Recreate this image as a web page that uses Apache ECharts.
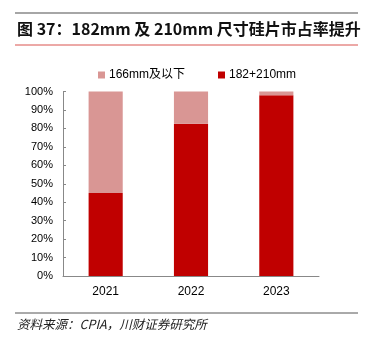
<!DOCTYPE html>
<html><head><meta charset="utf-8">
<script src="https://cdn.jsdelivr.net/npm/echarts@6/dist/echarts.min.js"></script>
<style>html,body{margin:0;padding:0;background:#fff}#c{width:368px;height:340px}</style>
</head><body><div id="c"></div>
<script>
var categories = ['2021', '2022', '2023'];
var seriesNames = ['166mm及以下', '182+210mm'];
var share182210 = [45, 82.5, 98];
var share166 = [55, 17.5, 2];
var yTicks = [0, 10, 20, 30, 40, 50, 60, 70, 80, 90, 100];

var chart = echarts.init(document.getElementById('c'), null, {renderer: 'canvas'});
var fontLatin = 'Liberation Sans, Arial, Noto Sans CJK SC, sans-serif';
chart.setOption({
  animation: false,
  backgroundColor: '#fff',
  grid: {left: 63, right: 49, top: 91.5, bottom: 64},
  legend: [
    {data: [seriesNames[0]], left: 93, top: 64, itemWidth: 7, itemHeight: 7, itemGap: 4,
     icon: 'rect', textStyle: {fontSize: 12, color: '#000', fontFamily: fontLatin, padding: [0,0,0,-1]}},
    {data: [seriesNames[1]], left: 213, top: 64, itemWidth: 7, itemHeight: 7, itemGap: 4,
     icon: 'rect', textStyle: {fontSize: 12, color: '#000', fontFamily: fontLatin, padding: [0,0,0,-1]}}
  ],
  xAxis: {
    type: 'category', data: categories,
    axisLine: {lineStyle: {color: '#888', width: 1}},
    axisTick: {inside: true, length: 3, lineStyle: {color: '#888'}},
    axisLabel: {fontSize: 12, color: '#000', fontFamily: fontLatin, margin: 10}
  },
  yAxis: {
    type: 'value', min: 0, max: 100, interval: 10,
    axisLine: {show: true, lineStyle: {color: '#888', width: 1}},
    axisTick: {show: true, inside: true, length: 3, lineStyle: {color: '#888'}},
    splitLine: {show: false},
    axisLabel: {fontSize: 11, color: '#000', fontFamily: fontLatin, margin: 10,
      formatter: function (v) { return yTicks.indexOf(v) >= 0 ? v + '%' : ''; }}
  },
  series: [
    {name: seriesNames[1], type: 'bar', stack: 's', data: share182210, barWidth: '40%',
     itemStyle: {color: '#C00000'}},
    {name: seriesNames[0], type: 'bar', stack: 's', data: share166, barWidth: '40%',
     itemStyle: {color: '#D99694'}}
  ],
  graphic: [
    {type: 'line', shape: {x1: 15, y1: 13, x2: 358, y2: 13}, style: {stroke: '#888', lineWidth: 1.5}},
    {type: 'text', left: 17, top: 21, style: {text: '图 37：182mm 及 210mm 尺寸硅片市占率提升',
      font: 'bold 16px "Noto Sans CJK SC", sans-serif', fill: '#111'}},
    {type: 'line', shape: {x1: 15, y1: 45, x2: 358, y2: 45}, style: {stroke: '#D9534F', lineWidth: 1}},
    {type: 'line', shape: {x1: 15, y1: 313, x2: 358, y2: 313}, style: {stroke: '#555', lineWidth: 1}},
    {type: 'text', left: 17, top: 318, style: {text: '资料来源：CPIA，川财证券研究所',
      font: 'italic 12.5px "Noto Sans CJK SC", sans-serif', fill: '#222'}}
  ]
});
</script></body></html>
